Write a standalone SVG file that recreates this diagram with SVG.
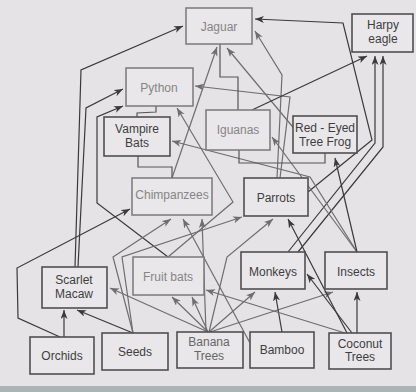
<svg xmlns="http://www.w3.org/2000/svg" width="416" height="392" viewBox="0 0 416 392">
<style>
.bg{fill:#e6e3e6}
.box{fill:#e9e7ea;stroke:#505050;stroke-width:1.6}
.boxl{fill:#e9e7ea;stroke:#7a7a7a;stroke-width:1.5}
.t{font-family:"Liberation Sans",Arial,sans-serif;font-size:12px;fill:#3e3e3e;text-anchor:middle}
.tl{font-family:"Liberation Sans",Arial,sans-serif;font-size:12px;fill:#858585;text-anchor:middle}
.d{fill:none;stroke:#3a3a3a;stroke-width:1.2;marker-end:url(#ad)}
.g{fill:none;stroke:#6e6e6e;stroke-width:1.2;marker-end:url(#ag)}
.b{fill:none;stroke:#555;stroke-width:1.2}
</style>
<defs>
<marker id="ad" markerUnits="userSpaceOnUse" markerWidth="10" markerHeight="8" refX="9" refY="3.5" orient="auto"><path d="M0,0 L9,3.5 L0,7 L2.5,3.5 z" fill="#3a3a3a"/></marker>
<marker id="ag" markerUnits="userSpaceOnUse" markerWidth="10" markerHeight="8" refX="9" refY="3.5" orient="auto"><path d="M0,0 L9,3.5 L0,7 L2.5,3.5 z" fill="#6e6e6e"/></marker>
</defs>
<rect class="bg" x="0" y="0" width="416" height="392"/>
<rect x="0" y="386" width="416" height="6" fill="#a9b4b6"/>

<g id="connectors">
<path class="d" d="M75,267 L81,70 L183,26"/>
<path class="d" d="M78,267 L86,108 L123,89"/>
<path class="d" d="M168,257 L97,203 L97,117 L123,106"/>
<path class="g" d="M168,257 L233,202 L177,108"/>
<path class="d" d="M60,337 L18,318 L17,268 L130,209"/>
<path class="d" d="M64,337 L64,310"/>
<path class="d" d="M133,333 L77,310"/>
<path class="g" d="M133,333 L113,257 L171,219"/>
<path class="g" d="M133,333 L122,257 L242,217"/>
<path class="g" d="M208,332 L110,288"/>
<path class="g" d="M208,332 L172,297"/>
<path class="g" d="M208,332 L192,297"/>
<path class="g" d="M206,332 L202,219"/>
<path class="g" d="M209,332 L227,257 L273,219"/>
<path class="g" d="M209,332 L255,292"/>
<path class="g" d="M210,332 L333,292"/>
<path class="g" d="M250,343 L183,219"/>
<path class="d" d="M282,332 L275,292"/>
<path class="g" d="M345,333 L206,290"/>
<path class="d" d="M347,333 L288,219"/>
<path class="d" d="M352,333 L307,274"/>
<path class="d" d="M357,333 L357,292"/>
<path class="g" d="M172,178 L217,47"/>
<path class="g" d="M297,132 L227,48"/>
<path class="g" d="M277,178 L282,75 L255,31"/>
<path class="g" d="M280,178 L290,97 L195,86"/>
<path class="d" d="M308,192 L372,140 L343,23 L255,19"/>
<path class="d" d="M288,252 L375,143 L375,56"/>
<path class="d" d="M298,252 L383,147 L383,56"/>
<path class="d" d="M252,110 L367,56"/>
<path class="g" d="M357,252 L310,177 L172,141"/>
<path class="g" d="M357,252 L272,137"/>
<path class="d" d="M357,252 L335,158"/>
<path class="b" d="M220,44 L220,77 L238,77 L238,110"/>
<path class="b" d="M156,106 L156,112 L137,113 L137,117"/>
<path class="b" d="M138,156 L138,167 L172,167 L172,178"/>
<path class="b" d="M239,150 L239,163 L325,163 L325,153"/>
</g>

<g id="jaguar"><rect class="boxl" x="186" y="8" width="66" height="36"/><text class="tl" x="219" y="31">Jaguar</text></g>
<g id="harpy-eagle"><rect class="box" x="352" y="14" width="61" height="38"/><text class="t" x="383" y="29">Harpy</text><text class="t" x="383" y="42.5">eagle</text></g>
<g id="python"><rect class="boxl" x="126" y="68" width="67" height="38"/><text class="tl" x="159" y="92">Python</text></g>
<g id="vampire-bats"><rect class="box" x="104" y="117" width="66" height="39"/><text class="t" x="137" y="133">Vampire</text><text class="t" x="137" y="146.5">Bats</text></g>
<g id="iguanas"><rect class="boxl" x="206" y="110" width="64" height="40"/><text class="tl" x="238" y="134">Iguanas</text></g>
<g id="red-eyed-tree-frog"><rect class="box" x="293" y="116" width="64" height="37"/><text class="t" x="325" y="132">Red - Eyed</text><text class="t" x="325" y="145.5">Tree Frog</text></g>
<g id="chimpanzees"><rect class="boxl" x="132" y="178" width="80" height="37"/><text class="tl" x="172" y="199">Chimpanzees</text></g>
<g id="parrots"><rect class="box" x="244" y="178" width="64" height="38"/><text class="t" x="276" y="202">Parrots</text></g>
<g id="scarlet-macaw"><rect class="box" x="42" y="267" width="65" height="41"/><text class="t" x="74" y="284">Scarlet</text><text class="t" x="74" y="297.5">Macaw</text></g>
<g id="fruit-bats"><rect class="boxl" x="133" y="257" width="71" height="38"/><text class="tl" x="168" y="281">Fruit bats</text></g>
<g id="monkeys"><rect class="box" x="241" y="252" width="64" height="37"/><text class="t" x="273" y="276">Monkeys</text></g>
<g id="insects"><rect class="box" x="325" y="252" width="62" height="37"/><text class="t" x="356" y="276">Insects</text></g>
<g id="orchids"><rect class="box" x="30" y="337" width="64" height="37"/><text class="t" x="62" y="360">Orchids</text></g>
<g id="seeds"><rect class="box" x="102" y="333" width="66" height="37"/><text class="t" x="135" y="356">Seeds</text></g>
<g id="banana-trees"><rect class="box" x="177" y="332" width="66" height="36"/><text class="tl" x="209" y="346" style="fill:#666">Banana</text><text class="tl" x="209" y="359.5" style="fill:#666">Trees</text></g>
<g id="bamboo"><rect class="box" x="250" y="332" width="64" height="36"/><text class="t" x="282" y="354">Bamboo</text></g>
<g id="coconut-trees"><rect class="box" x="329" y="333" width="62" height="36"/><text class="t" x="360" y="347.5">Coconut</text><text class="t" x="360" y="361">Trees</text></g>
</svg>
